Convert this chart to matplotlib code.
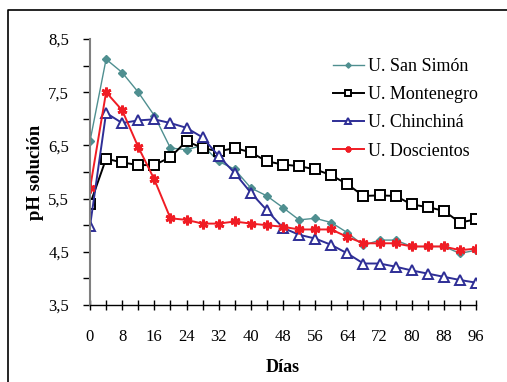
import numpy as np
import matplotlib.pyplot as plt
from matplotlib.lines import Line2D

plt.rcParams['font.family'] = ['Liberation Serif', 'DejaVu Serif']

# --- data ---
dias = [0, 4, 8, 12, 16, 20, 24, 28, 32, 36, 40, 44, 48, 52, 56, 60, 64, 68, 72, 76, 80, 84, 88, 92, 96]

san_simon = [6.58, 8.12, 7.87, 7.50, 7.06, 6.45, 6.42, 6.50, 6.20, 6.05, 5.70, 5.55, 5.33,
             5.10, 5.13, 5.05, 4.86, 4.62, 4.72, 4.72, 4.60, 4.60, 4.60, 4.47, 4.53]
montenegro = [5.39, 6.25, 6.18, 6.13, 6.13, 6.28, 6.58, 6.45, 6.39, 6.45, 6.37, 6.20, 6.14,
              6.11, 6.05, 5.94, 5.77, 5.55, 5.56, 5.55, 5.39, 5.34, 5.27, 5.05, 5.11]
chinchina = [4.98, 7.11, 6.92, 6.97, 6.99, 6.92, 6.83, 6.65, 6.30, 5.98, 5.61, 5.28, 4.95,
             4.82, 4.75, 4.63, 4.47, 4.28, 4.28, 4.22, 4.15, 4.09, 4.03, 3.97, 3.92]
doscientos = [5.69, 7.50, 7.16, 6.47, 5.86, 5.13, 5.10, 5.03, 5.03, 5.07, 5.03, 5.00, 4.97,
              4.92, 4.92, 4.92, 4.78, 4.66, 4.66, 4.66, 4.60, 4.60, 4.60, 4.53, 4.56]

series_names = ["U. San Simón", "U. Montenegro", "U. Chinchiná", "U. Doscientos"]

# --- plot ---
fig = plt.figure(figsize=(5.07, 3.82), dpi=100)
ax = fig.add_axes([90/507, 77/382, 386/507, 266/382])

ax.plot(dias, san_simon, color='#4f8f90', lw=1.0, marker='D', ms=4.5,
        mfc='#4f8f90', mec='#4f8f90', label=series_names[0])
ax.plot(dias, montenegro, color='black', lw=1.4, marker='s', ms=6.5,
        mfc='white', mec='black', mew=1.4, label=series_names[1])
ax.plot(dias, chinchina, color='#2e2e96', lw=1.4, marker='^', ms=6.5,
        mfc='white', mec='#2e2e96', mew=1.4, label=series_names[2])
ax.plot(dias, doscientos, color='#f01c24', lw=1.4, marker=(6, 2, 0), ms=7,
        mec='#f01c24', mew=2.0, label=series_names[3])

ax.set_xlim(0, 96)
ax.set_ylim(3.5, 8.5)

ax.set_xticks(np.arange(0, 97, 4))
ax.set_xticklabels([str(d) if d % 8 == 0 else '' for d in range(0, 97, 4)])
yt = np.arange(3.5, 8.51, 0.5)
ax.set_yticks(yt)
ax.set_yticklabels([f"{v:.1f}".replace('.', ',') if abs((v - 3.5) % 1) < 1e-6 else '' for v in yt])

for lab in ax.get_xticklabels() + ax.get_yticklabels():
    lab.set_fontsize(12)

ax.tick_params(axis='x', direction='inout', length=7, width=1.0, color='black', pad=14)
ax.tick_params(axis='y', direction='out', length=5, width=1.0, color='black', pad=10)

for s in ['top', 'right']:
    ax.spines[s].set_visible(False)
ax.spines['left'].set_color('#808080')
ax.spines['left'].set_linewidth(1.5)
ax.spines['bottom'].set_color('black')
ax.spines['bottom'].set_linewidth(1.0)

ax.set_xlabel("Días", fontsize=13, fontweight='bold', labelpad=10)
ax.set_ylabel("pH solución", fontsize=13.5, fontweight='bold', labelpad=3)

ax.legend(loc='upper left', bbox_to_anchor=(333/507, (382 - 58)/382),
          bbox_transform=fig.transFigure, frameon=False, fontsize=13,
          handlelength=1.7, handletextpad=0.25, labelspacing=0.62,
          borderaxespad=0, borderpad=0, markerscale=0.6)

# chart frame (only top and left edges visible)
fig.add_artist(Line2D([8/507, 8/507, 1.0], [0.0, 1 - 10/382, 1 - 10/382],
                      transform=fig.transFigure, color='black', lw=1.2))

plt.savefig("out.png", dpi=100)
